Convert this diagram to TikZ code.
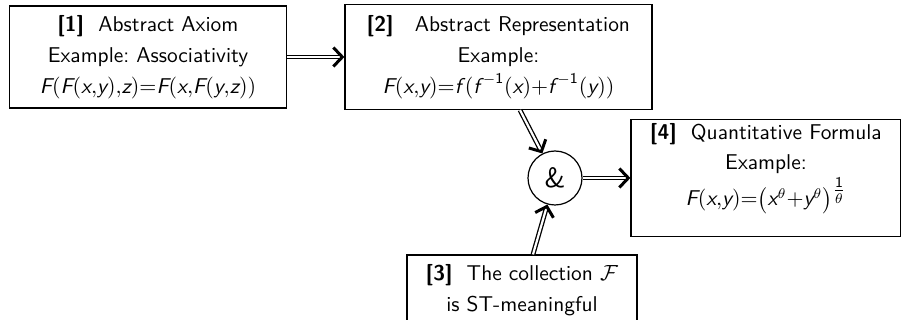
\documentclass[tikz,border=0pt]{standalone}
\usepackage{amsmath}
\usetikzlibrary{arrows.meta,calc}
\renewcommand{\familydefault}{\sfdefault}
\newcommand{\mi}[1]{\text{\itshape #1}}
\newcommand{\mn}[1]{\text{#1}}
\begin{document}
\begin{tikzpicture}[x=0.5pt,y=-0.5pt,
  box/.style={draw, line width=0.6pt, inner sep=0pt},
  txt/.style={align=center, font=\fontsize{10.7}{15.5}\selectfont\sffamily, inner sep=0pt},
  oneline/.style={font=\fontsize{10.7}{15.5}\selectfont\sffamily, inner sep=0pt, anchor=base},
  imp/.style={double, line width=0.65pt, double distance=1.1pt, -{Straight Barb[length=4.5pt,width=9.5pt,line width=1.5pt]}}]
\useasboundingbox (0,0) rectangle (901,320);
% boxes
\node[box, minimum width=138.5pt, minimum height=51pt] (b1) at (148,57) {};
\node[box, minimum width=153.5pt, minimum height=52.5pt] (b2) at (498.5,57) {};
\node[box, minimum width=135pt, minimum height=58.5pt] (b4) at (766,178) {};
\node[box, minimum width=115pt, minimum height=33pt] (b3) at (522,288) {};
\node[draw, circle, line width=0.6pt, minimum size=27pt, inner sep=0pt] (amp) at (555,178) {};
% texts
\node[txt] (t1) at (b1) {\textbf{[1]}\ \ Abstract Axiom\\ Example:\ Associativity\\ $\mi{F}(\mi{F}(\mi{x}{,}\mi{y}){,}\mi{z}){=}\mi{F}(\mi{x}{,}\mi{F}(\mi{y}{,}\mi{z}))$};
\node[txt] (t2) at (b2) {\textbf{[2]}\quad Abstract Representation\\ Example:\\ $\mi{F}(\mi{x}{,}\mi{y}){=}\mi{f}\,(\mi{f}^{\,-\mn{1}}(\mi{x}){+}\mi{f}^{\,-\mn{1}}(\mi{y}))$};
\node[oneline] (t4a) at (766,140) {\textbf{[4]}\ \ Quantitative Formula};
\node[oneline] (t4b) at (766,170) {Example:};
\node[oneline] (t4c) at (766,206) {$\mi{F}(\mi{x}{,}\mi{y}){=}\bigl(\mi{x}^{\theta}{+}\mi{y}^{\theta}\bigr)^{\raisebox{-4.5pt}{$\frac{\mn{1}}{\theta}$}}$};
\node[txt, anchor=north] (t3) at ($(b3.north)+(0,10)$) {\textbf{[3]}\ \ The collection $\mathcal{F}$\\ is ST-meaningful};
\node[txt, font=\fontsize{14}{16}\selectfont] (ta) at (amp) {\&};
% connectors
\draw[imp] (b1) -- (b2);
\coordinate (s2) at ($(b2.south)+(21.5,0)$);
\draw[imp] (s2) -- (amp);
\coordinate (s3) at ($(b3.north)+(11,0)$);
\draw[imp] (s3) -- (amp);
\draw[imp] (amp) -- (b4);
\end{tikzpicture}
\end{document}
